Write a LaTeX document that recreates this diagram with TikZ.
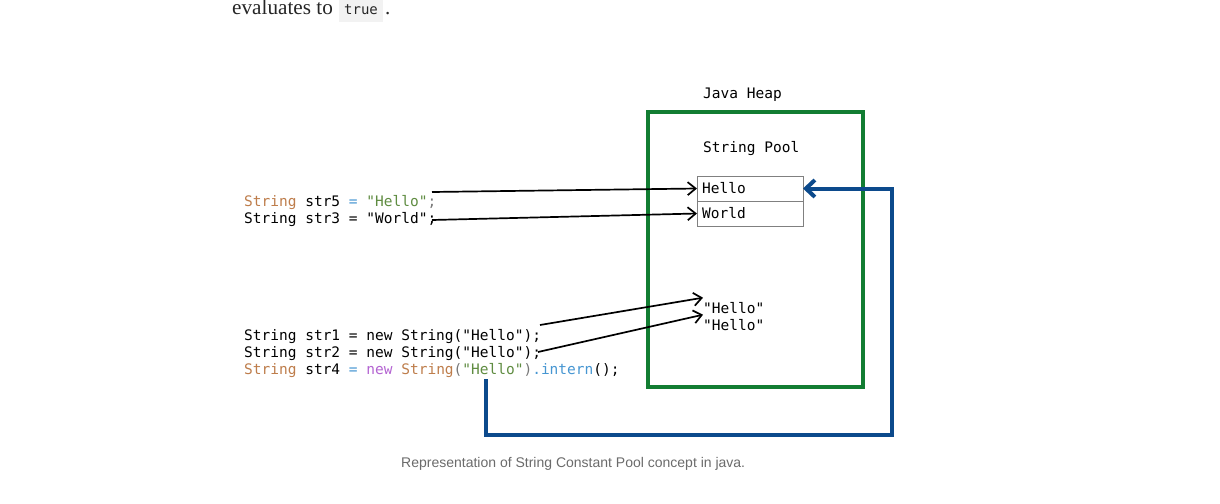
\documentclass[tikz,border=0pt]{standalone}
\usepackage{fontspec}
\setmainfont{Liberation Serif}
\setsansfont{Liberation Sans}
\setmonofont{DejaVu Sans Mono}
\usetikzlibrary{arrows.meta}
\definecolor{jgreen}{RGB}{18,125,50}
\definecolor{jblue}{RGB}{12,74,140}
\definecolor{korange}{RGB}{190,125,75}
\definecolor{kblue}{RGB}{70,150,210}
\definecolor{kgreen}{RGB}{95,140,65}
\definecolor{kpurple}{RGB}{180,100,210}
\definecolor{kgrey}{RGB}{120,120,120}
\definecolor{capgrey}{RGB}{107,107,107}
\begin{document}
\begin{tikzpicture}[x=1pt,y=-1pt,
  code/.style={anchor=base west,inner sep=0pt,font=\ttfamily\fontsize{14.5}{17}\selectfont},
  ptr/.style={draw=black,line width=1.7pt,-{Straight Barb[length=8pt,width=13pt]}},
  ref/.style={draw=jblue,line width=4pt,line join=miter,-{Straight Barb[length=9pt,width=17pt]}},
  poolbox/.style={draw=gray,line width=0.8pt,minimum width=106pt,minimum height=25pt,anchor=north west,inner sep=0pt,outer sep=0pt}]
\useasboundingbox (0,0) rectangle (1220,503);
\fill[white] (0,0) rectangle (1220,503);
% top text
\fill[gray!10] (339,0) rectangle (383,22);
\node (evt) [anchor=base west,inner sep=0pt,font=\fontsize{21.2}{24}\selectfont,text=black!85] at (232,15) {evaluates to};
\node (tru) [anchor=base west,inner sep=0pt,font=\ttfamily\fontsize{14}{16}\selectfont,text=black!85] at (344,15) {true};
\node (dot) [anchor=base west,inner sep=0pt,font=\fontsize{21}{24}\selectfont,text=black!85] at (385,15) {.};
% heap
\node (heap) [draw=jgreen,line width=4pt,minimum width=215pt,minimum height=275pt,anchor=north west,inner sep=0pt,outer sep=0pt] at (648,112) {};
\node (jh) [code] at (703,98) {Java Heap};
\node (sp) [code] at (703,152) {String Pool};
\node (phello) [poolbox] at (697,176) {};
\node (pworld) [poolbox] at (697,201) {};
\node (thello) [code] at (702,193) {Hello};
\node (tworld) [code] at (702,218) {World};
\node (h1) [code] at (703,313) {"Hello"};
\node (h2) [code] at (703,330) {"Hello"};
% code
\node (c5) [code] at (244,206) {\textcolor{korange}{String} str5 \textcolor{kblue}{=} \textcolor{kgreen}{"Hello"}\textcolor{kgrey}{;}};
\node (c3) [code] at (244,223) {String str3 = "World";};
\node (c1) [code] at (244,340) {String str1 = new String("Hello");};
\node (c2) [code] at (244,357) {String str2 = new String("Hello");};
\node (c4) [code] at (244,374) {\textcolor{korange}{String} str4 \textcolor{kblue}{=} \textcolor{kpurple}{new} \textcolor{korange}{String}\textcolor{kgrey}{(}\textcolor{kgreen}{"Hello"}\textcolor{kgrey}{)}\textcolor{kblue}{.intern}();};
% connectors
\coordinate (s5) at (432,192);
\coordinate (s3) at (432,220);
\coordinate (s1) at (540,325);
\coordinate (s2) at (538,352);
\coordinate (s4) at (486,379);
\draw[ptr] (s5) -- (phello.west);
\draw[ptr] (s3) -- (pworld.west);
\draw[ptr] (s1) -- ([yshift=4pt]h1.north west);
\draw[ptr] (s2) -- ([yshift=4pt]h2.north west);
\draw[ref] (s4) |- (892,435) |- (phello.east);
% caption
\node (cap) [anchor=base west,inner sep=0pt,font=\sffamily\fontsize{14}{16}\selectfont,text=capgrey] at (401,467) {Representation of String Constant Pool concept in java.};
\end{tikzpicture}
\end{document}
